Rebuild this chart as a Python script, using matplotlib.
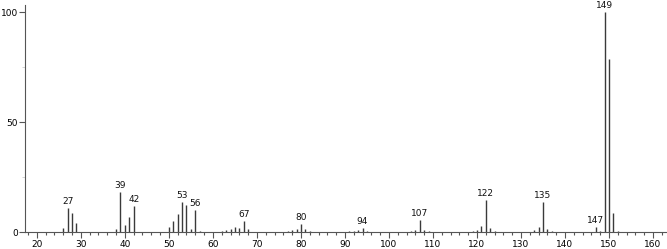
import matplotlib
matplotlib.use("Agg")
import matplotlib.pyplot as plt
from matplotlib.ticker import MultipleLocator

mz = [26, 27, 28, 29, 38, 39, 40, 41, 42,
      50, 51, 52, 53, 54, 55, 56, 57,
      62, 63, 64, 65, 66, 67, 68,
      77, 78, 79, 80, 81, 82,
      91, 92, 93, 94, 95,
      105, 106, 107, 108, 109,
      119, 120, 121, 122, 123, 124,
      133, 134, 135, 136, 137,
      147, 148, 149, 150, 151, 152]
intensity = [1.8, 10.9, 8.5, 4.2, 1.6, 18.3, 3.0, 6.7, 11.7,
             2.3, 4.9, 8.4, 13.7, 12.1, 1.5, 9.9, 0.5,
             0.5, 0.8, 1.2, 2.3, 1.7, 4.9, 1.2,
             0.5, 0.8, 1.4, 3.5, 1.4, 0.6,
             0.4, 0.6, 0.8, 1.7, 0.5,
             0.4, 0.8, 5.3, 0.8, 0.4,
             0.5, 0.8, 2.6, 14.4, 1.8, 0.7,
             0.8, 2.3, 13.5, 1.5, 0.7,
             2.1, 0.6, 100.0, 78.8, 8.7, 0.7]
labeled = [27, 39, 42, 53, 56, 67, 80, 94, 107, 122, 135, 147, 149]

fig = plt.figure(figsize=(6.67, 2.49), dpi=100)
ax = fig.add_axes([0.0375, 0.068, 0.9625, 0.912])
ax.vlines(mz, 0, intensity, color="#3a3a3a", linewidth=1.0)
for m, v in zip(mz, intensity):
    if m in labeled:
        ax.text(m, v + 1.0, str(m), ha="center", va="bottom", fontsize=6.5, color="#111111")

ax.set_xlim(17.3, 163.2)
ax.set_ylim(0, 103.4)
for s in ["top", "right"]:
    ax.spines[s].set_visible(False)
for s in ["left", "bottom"]:
    ax.spines[s].set_color("#555555")
    ax.spines[s].set_linewidth(0.8)

ax.xaxis.set_major_locator(MultipleLocator(10))
ax.xaxis.set_minor_locator(MultipleLocator(2))
ax.yaxis.set_major_locator(MultipleLocator(50))
ax.yaxis.set_minor_locator(MultipleLocator(25))
ax.tick_params(axis="x", which="major", length=4, width=0.8, color="#555555", labelsize=6.5, pad=1.5)
ax.tick_params(axis="x", which="minor", length=2.5, width=0.8, color="#555555")
ax.tick_params(axis="y", which="major", length=4, width=0.8, color="#555555", labelsize=6.5, pad=1)
ax.tick_params(axis="y", which="minor", length=2, width=0.6, color="#cccccc")

fig.savefig("out.png", dpi=100)
